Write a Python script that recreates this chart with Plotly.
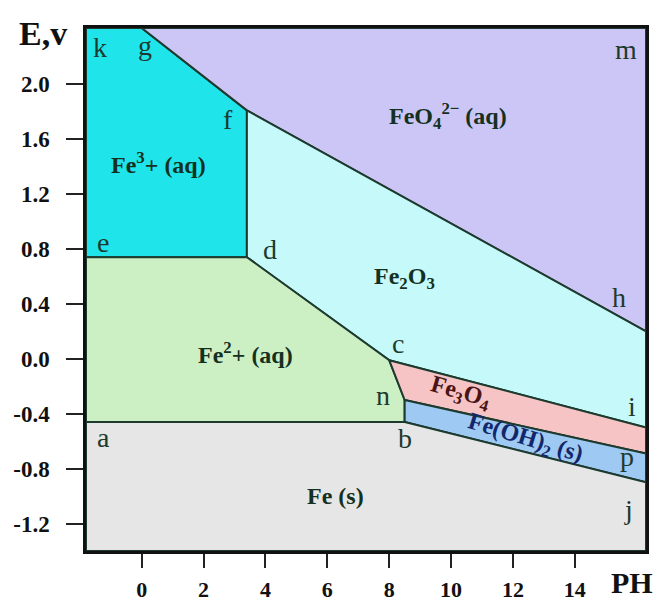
import plotly.graph_objects as go

# ---- data (pH, E in volts) ----
x_min, x_max = -1.8, 16.3
y_min, y_max = -1.40, 2.41

# named boundary points (pH, E)
pts = {
    "k": (x_min, y_max), "g": (0.0, y_max), "m": (x_max, y_max),
    "f": (3.4, 1.81), "h": (x_max, 0.20),
    "e": (x_min, 0.74), "d": (3.4, 0.74),
    "c": (8.0, -0.01), "i": (x_max, -0.50),
    "n": (8.5, -0.30), "p": (x_max, -0.69),
    "b": (8.5, -0.46), "a": (x_min, -0.46), "j": (x_max, -0.90),
    "BL": (x_min, y_min), "BR": (x_max, y_min),
}

regions = [
    ("Fe3+", ["k", "g", "f", "d", "e"], "#1FE5EA"),
    ("FeO4", ["g", "m", "h", "f"], "#CBC6F5"),
    ("Fe2O3", ["f", "h", "i", "c", "d"], "#C6FAFA"),
    ("Fe2+", ["e", "d", "c", "n", "b", "a"], "#CDEFC4"),
    ("Fe3O4", ["c", "i", "p", "n"], "#F6C4C4"),
    ("FeOH2", ["n", "p", "j", "b"], "#9DC9F2"),
    ("Fe", ["a", "b", "j", "BR", "BL"], "#E6E6E6"),
]

region_labels = [
    ("Fe<sup>3</sup>+ (aq)", 0.55, 1.43, "#14301f", 0),
    ("FeO<sub>4</sub><sup>2−</sup> (aq)", 9.9, 1.77, "#14301f", 0),
    ("Fe<sub>2</sub>O<sub>3</sub>", 8.5, 0.59, "#14301f", 0),
    ("Fe<sup>2</sup>+ (aq)", 3.35, 0.04, "#14301f", 0),
    ("Fe<sub>3</sub>O<sub>4</sub>", 10.3, -0.25, "#4a1414", 16),
    ("Fe(OH)<sub>2</sub> (s)", 12.4, -0.585, "#14266a", 17),
    ("Fe (s)", 6.25, -1.0, "#14301f", 0),
]

point_labels = [
    ("k", -1.36, 2.27), ("g", 0.1, 2.28), ("f", 2.8, 1.74), ("e", -1.26, 0.85),
    ("d", 4.15, 0.80), ("c", 8.3, 0.11), ("n", 7.8, -0.27), ("b", 8.5, -0.58),
    ("a", -1.23, -0.57), ("m", 15.65, 2.25), ("h", 15.44, 0.45),
    ("i", 15.86, -0.35), ("p", 15.7, -0.71), ("j", 15.75, -1.10),
]

x_ticks = [0, 2, 4, 6, 8, 10, 12, 14]
y_ticks = [-1.2, -0.8, -0.4, 0.0, 0.4, 0.8, 1.2, 1.6, 2.0]

serif = "Liberation Serif, Times New Roman, serif"
line_col = "#1d3a2e"

fig = go.Figure()
for name, keys, col in regions:
    xs = [pts[k][0] for k in keys] + [pts[keys[0]][0]]
    ys = [pts[k][1] for k in keys] + [pts[keys[0]][1]]
    fig.add_trace(go.Scatter(x=xs, y=ys, fill="toself", fillcolor=col,
                             mode="lines", line=dict(color=line_col, width=2),
                             name=name, hoverinfo="skip", showlegend=False))

for txt, x, y, col, ang in region_labels:
    fig.add_annotation(x=x, y=y, text="<b>" + txt + "</b>", showarrow=False,
                       textangle=ang, font=dict(family=serif, size=24, color=col))

for txt, x, y in point_labels:
    fig.add_annotation(x=x, y=y, text=txt, showarrow=False,
                       font=dict(family=serif, size=28, color="#1d3a2e"))

fig.add_annotation(xref="paper", yref="paper", x=-0.077, y=0.99, xanchor="center",
                   yanchor="middle", text="<b>E,v</b>", showarrow=False,
                   font=dict(family=serif, size=34, color="#111"))
fig.add_annotation(xref="paper", yref="paper", x=0.975, y=-0.061, xanchor="center",
                   yanchor="middle", text="<b>PH</b>", showarrow=False,
                   font=dict(family=serif, size=30, color="#111"))

fig.update_layout(
    width=658, height=596,
    margin=dict(l=78, r=20, t=20, b=53, autoexpand=False),
    paper_bgcolor="white", plot_bgcolor="white",
    showlegend=False,
    xaxis=dict(range=[x_min, x_max], tickvals=x_ticks, automargin=False,
               ticktext=["<b>%d</b>" % v for v in x_ticks],
               ticks="outside", ticklen=14, tickwidth=2, tickcolor="#222",
               showgrid=False, zeroline=False, showline=True, mirror=True,
               linecolor="#111", linewidth=2.5, ticklabelstandoff=3,
               tickfont=dict(family=serif, size=22, color="#111")),
    yaxis=dict(range=[y_min, y_max], tickvals=y_ticks, automargin=False,
               ticktext=["<b>%.1f</b>" % v for v in y_ticks],
               ticks="outside", ticklen=17, tickwidth=2, tickcolor="#222",
               showgrid=False, zeroline=False, showline=True, mirror=True,
               linecolor="#111", linewidth=2.5, ticklabelstandoff=12,
               tickfont=dict(family=serif, size=23, color="#111")),
)

fig.write_html("out.html")
